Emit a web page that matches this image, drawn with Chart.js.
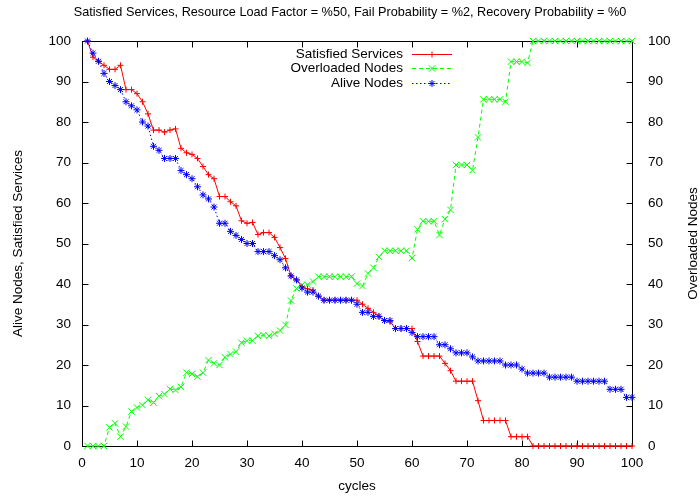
<!DOCTYPE html>
<html lang="en">
<head>
  <meta charset="UTF-8">
  <meta name="viewport" content="width=device-width, initial-scale=1.0">
  <title>Satisfied Services</title>

  <!-- ChartJS -->
  <script src="https://cdn.jsdelivr.net/npm/chart.js"></script>

  <style>
    body { margin: 0; background: #fff; }
    canvas { display: block; }
  </style>
</head>
<body>

  <canvas id="graphic" width="700" height="496"></canvas>

  <script>
    // Simulation output, one value per cycle
    const cycles = [
      1, 2, 3, 4, 5, 6, 7, 8, 9, 10,
      11, 12, 13, 14, 15, 16, 17, 18, 19, 20,
      21, 22, 23, 24, 25, 26, 27, 28, 29, 30,
      31, 32, 33, 34, 35, 36, 37, 38, 39, 40,
      41, 42, 43, 44, 45, 46, 47, 48, 49, 50,
      51, 52, 53, 54, 55, 56, 57, 58, 59, 60,
      61, 62, 63, 64, 65, 66, 67, 68, 69, 70,
      71, 72, 73, 74, 75, 76, 77, 78, 79, 80,
      81, 82, 83, 84, 85, 86, 87, 88, 89, 90,
      91, 92, 93, 94, 95, 96, 97, 98, 99, 100
    ];

    const satisfiedServices = [
      100, 96, 95, 94, 93, 93, 94, 88, 88, 87,
      85, 82, 78, 78, 77.5, 78, 78.3, 73.5, 72.4, 72,
      71, 69, 67, 66, 61.6, 61.6, 60.3, 59.3, 55.6, 55,
      55.2, 52.2, 52.7, 52.7, 51.5, 49, 46.3, 42, 41, 39.3,
      38.8, 38.5, 37, 36, 36, 36, 36, 36, 36, 36,
      35, 34, 33, 32, 31, 30.7, 29, 29, 29, 29,
      25.8, 22.2, 22.2, 22.2, 22.2, 20.4, 18.6, 16, 16, 16,
      16, 11.2, 6.3, 6.3, 6.3, 6.3, 6.3, 2.3, 2.3, 2.3,
      2.3, 0, 0, 0, 0, 0, 0, 0, 0, 0,
      0, 0, 0, 0, 0, 0, 0, 0, 0, 0
    ];

    const overloadedNodes = [
      0, 0, 0, 0, 4.6, 5.6, 2.3, 4.8, 8.5, 9.5,
      10.1, 11.4, 10.7, 12.3, 12.8, 14.1, 13.8, 14.6, 18.1, 17.8,
      17.1, 18.1, 21.2, 20.4, 20, 21.9, 22.7, 23.3, 25.5, 26,
      26, 27.2, 27.4, 27.2, 27.7, 28.5, 29.9, 35.9, 38.9, 39.8,
      39.8, 40.6, 41.8, 41.8, 41.8, 41.8, 41.8, 41.8, 41.8, 40.1,
      39.5, 42.6, 44, 46.7, 48.2, 48.2, 48.2, 48.2, 48.2, 46.4,
      53.5, 55.5, 55.5, 55.5, 52.1, 56, 58.3, 69.4, 69.4, 69.4,
      68.1, 76.2, 85.6, 85.6, 85.6, 85.6, 85, 94.9, 94.9, 94.9,
      94.6, 100, 100, 100, 100, 100, 100, 100, 100, 100,
      100, 100, 100, 100, 100, 100, 100, 100, 100, 100
    ];

    const aliveNodes = [
      100, 97, 95, 92, 90, 89, 88, 85, 84, 83,
      80, 79, 74, 73, 71, 71, 71, 68, 67, 66,
      64, 62, 61, 59, 55, 55, 53, 52, 51, 50,
      50, 48, 48, 48, 47, 46, 44, 42, 41, 39,
      38, 38, 37, 36, 36, 36, 36, 36, 36, 35,
      33, 33, 32, 32, 31, 31, 29, 29, 29, 28,
      27, 27, 27, 27, 25, 25, 24, 23, 23, 23,
      22, 21, 21, 21, 21, 21, 20, 20, 20, 19,
      18, 18, 18, 18, 17, 17, 17, 17, 17, 16,
      16, 16, 16, 16, 16, 14, 14, 14, 12, 12
    ];

    const FONT = '"Liberation Sans", Arial, sans-serif';
    const TEXT_SIZE = 13.5;
    Chart.defaults.font.family = FONT;
    Chart.defaults.font.size = TEXT_SIZE;
    Chart.defaults.color = '#000';

    const toPoints = values => values.map((v, i) => ({ x: cycles[i], y: v }));

    // border box with inward tick marks on all four sides
    const frame = {
      id: 'frame',
      beforeDatasetsDraw(chart) {
        const { ctx, chartArea: a, scales } = chart;
        const L = Math.round(a.left) + 0.5, R = Math.round(a.right) + 0.5;
        const T = Math.round(a.top) + 0.5, B = Math.round(a.bottom) + 0.5;
        ctx.save();
        ctx.strokeStyle = '#000';
        ctx.lineWidth = 1;
        ctx.beginPath();
        scales.x.ticks.forEach(t => {
          const px = Math.round(scales.x.getPixelForValue(t.value)) + 0.5;
          ctx.moveTo(px, B); ctx.lineTo(px, B - 6);
          ctx.moveTo(px, T); ctx.lineTo(px, T + 6);
        });
        scales.y.ticks.forEach(t => {
          const py = Math.round(scales.y.getPixelForValue(t.value)) + 0.5;
          ctx.moveTo(L, py); ctx.lineTo(L + 6, py);
        });
        scales.y2.ticks.forEach(t => {
          const py = Math.round(scales.y2.getPixelForValue(t.value)) + 0.5;
          ctx.moveTo(R, py); ctx.lineTo(R - 6, py);
        });
        ctx.stroke();
        ctx.strokeRect(L, T, R - L, B - T);
        ctx.restore();
      }
    };

    // key inside the plot (text first, then line sample) and the right axis label
    const keyBox = {
      id: 'keyBox',
      afterDraw(chart) {
        const { ctx, chartArea: a } = chart;
        const textRight = a.right - 229;
        const x0 = a.right - 220, x1 = a.right - 180;
        ctx.save();
        ctx.font = TEXT_SIZE + 'px ' + FONT;
        ctx.textAlign = 'right';
        ctx.textBaseline = 'middle';
        chart.data.datasets.forEach((ds, i) => {
          const y = Math.round(a.top + 13 + i * 14.3) + 0.5;
          ctx.fillStyle = '#000';
          ctx.fillText(ds.label, textRight, y);
          ctx.strokeStyle = ds.borderColor;
          ctx.lineWidth = 1;
          ctx.setLineDash(ds.borderDash || []);
          ctx.beginPath();
          ctx.moveTo(x0, y);
          ctx.lineTo(x1, y);
          ctx.stroke();
          ctx.setLineDash([]);
          Chart.helpers.drawPoint(ctx, {
            pointStyle: ds.pointStyle, radius: ds.pointRadius, borderWidth: 1, rotation: 0
          }, (x0 + x1) / 2, y);
        });

        ctx.translate(693, (a.top + a.bottom) / 2);
        ctx.rotate(-Math.PI / 2);
        ctx.textAlign = 'center';
        ctx.fillStyle = '#000';
        ctx.fillText('Overloaded Nodes', 0, 0);
        ctx.restore();
      }
    };

    const lienzo = document.getElementById('graphic');
    const grafico = new Chart(lienzo, {
      type: 'line',
      data: {
        datasets: [
          {
            label: 'Satisfied Services',
            data: toPoints(satisfiedServices),
            yAxisID: 'y',
            borderColor: '#ff0000',
            backgroundColor: '#ff0000',
            borderWidth: 1,
            pointStyle: 'cross',
            pointRadius: 3,
            pointBorderWidth: 1,
            clip: false,
            order: 2
          },
          {
            label: 'Overloaded Nodes',
            data: toPoints(overloadedNodes),
            yAxisID: 'y2',
            borderColor: '#00ff00',
            backgroundColor: '#00ff00',
            borderWidth: 1,
            borderDash: [4, 3],
            pointStyle: 'crossRot',
            pointRadius: 4.5,
            pointBorderWidth: 1,
            clip: false,
            order: 1
          },
          {
            label: 'Alive Nodes',
            data: toPoints(aliveNodes),
            yAxisID: 'y',
            borderColor: '#0000ff',
            backgroundColor: '#0000ff',
            borderWidth: 1,
            borderDash: [1.5, 2.5],
            pointStyle: 'star',
            pointRadius: 3.5,
            pointBorderWidth: 1,
            clip: false,
            order: 0
          }
        ]
      },
      options: {
        responsive: false,
        animation: false,
        events: [],
        layout: { padding: 0 },
        plugins: {
          legend: { display: false },
          tooltip: { enabled: false },
          title: {
            display: true,
            text: 'Satisfied Services, Resource Load Factor = %50, Fail Probability = %2, Recovery Probability = %0',
            color: '#000',
            font: { size: 12.7, weight: 'normal' },
            padding: { top: 4.4, bottom: 21.36 }
          }
        },
        scales: {
          x: {
            type: 'linear',
            min: 0,
            max: 100,
            ticks: { stepSize: 10, padding: 9, maxRotation: 0 },
            grid: { display: false, drawTicks: false },
            border: { display: false },
            title: { display: true, text: 'cycles', padding: { top: 0, bottom: 2 } },
            afterFit: s => { s.height = 50; }
          },
          y: {
            position: 'left',
            min: 0,
            max: 100,
            ticks: { stepSize: 10, padding: 11 },
            grid: { display: false, drawTicks: false },
            border: { display: false },
            title: { display: true, text: 'Alive Nodes, Satisfied Services', padding: { top: 10, bottom: 0 } },
            afterFit: s => { s.width = 82; }
          },
          y2: {
            position: 'right',
            min: 0,
            max: 100,
            ticks: { stepSize: 10, padding: 16 },
            grid: { display: false, drawTicks: false },
            border: { display: false },
            afterFit: s => { s.width = 68; }
          }
        }
      },
      plugins: [frame, keyBox]
    });
  </script>
</body>
</html>
